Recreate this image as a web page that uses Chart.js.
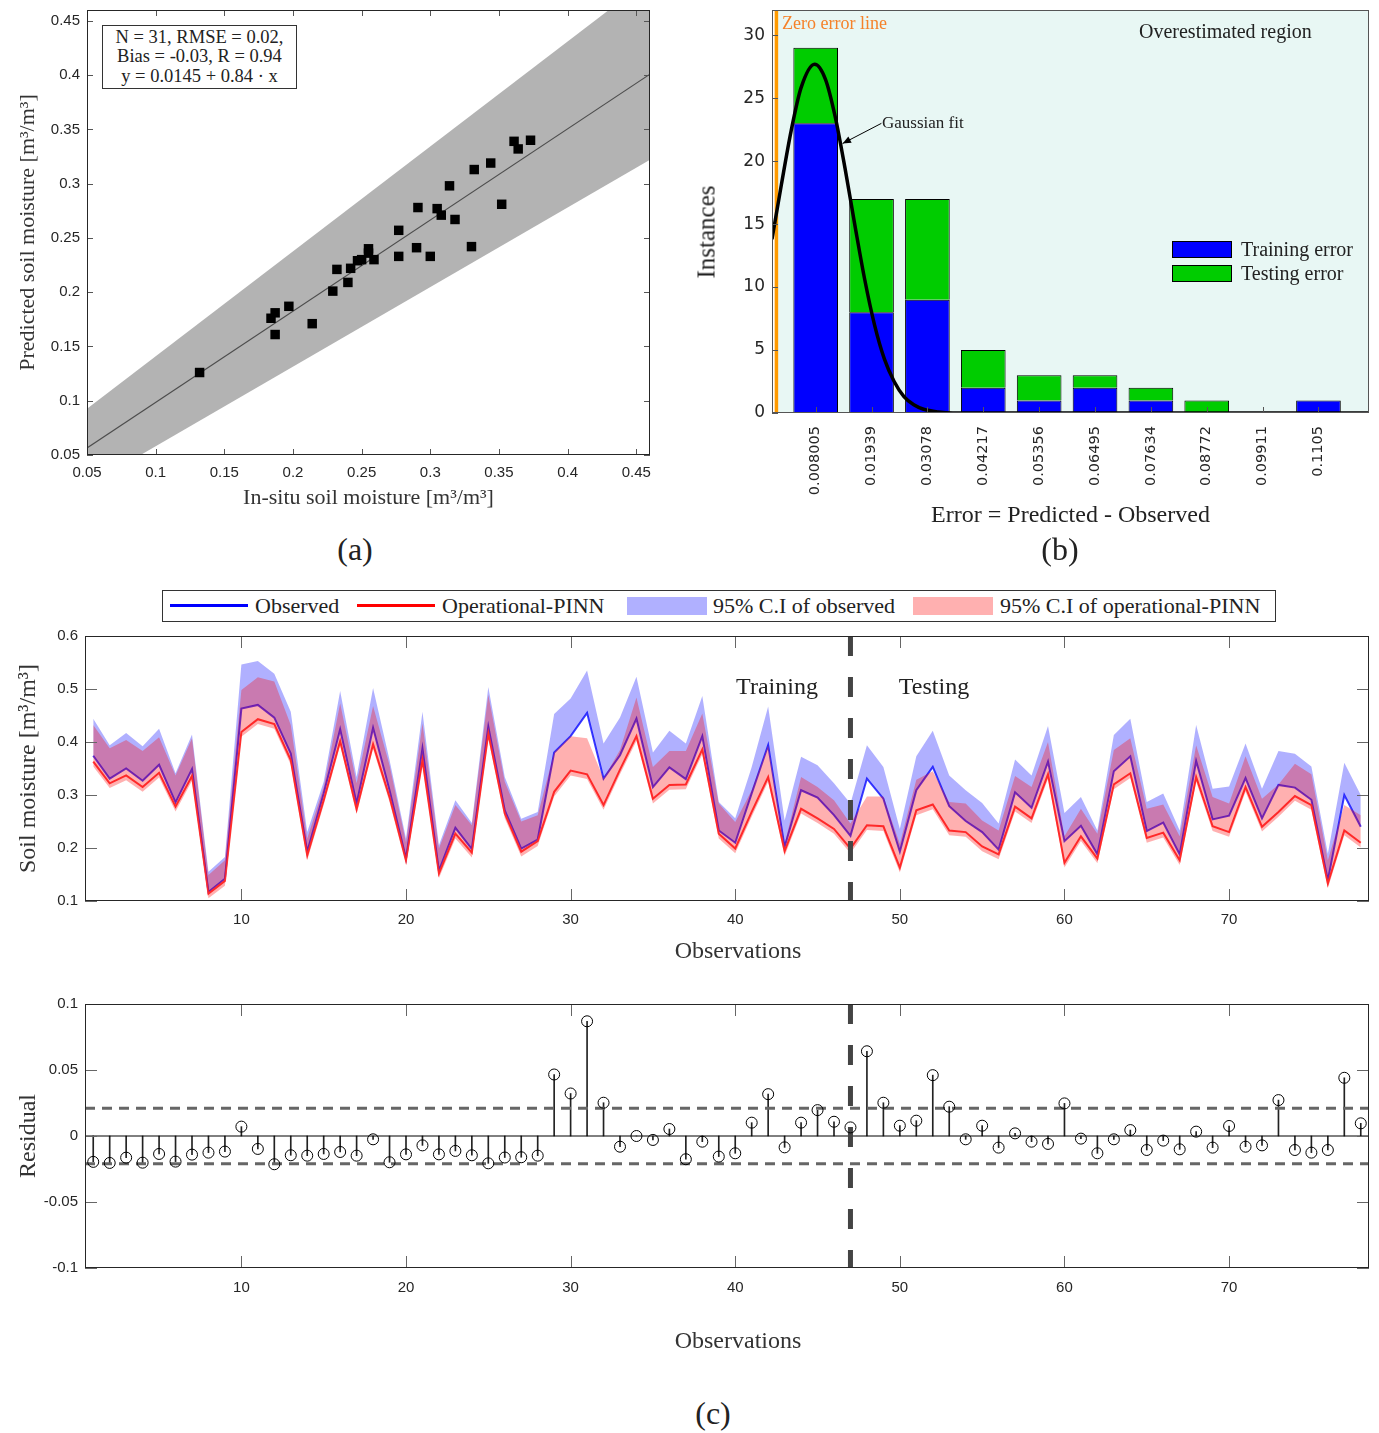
<!DOCTYPE html>
<html lang="en">
<head>
<meta charset="UTF-8">
<title>Soil moisture - Operational-PINN evaluation</title>
<script src="https://cdn.jsdelivr.net/npm/chart.js"></script>
<style>
  body { margin: 0; background: #fff; }
  #fig { position: relative; width: 1379px; height: 1433px; overflow: hidden;
         font-family: 'Liberation Serif', 'Times New Roman', serif; color: #222; }
  #fig canvas { position: absolute; }
  .txt { position: absolute; white-space: nowrap; line-height: 1; }
  .mid { transform: translate(-50%, -50%); }
  .left { transform: translateY(-50%); }
  .panel { font-size: 32px; }
  .swatch { position: absolute; box-sizing: border-box; }
</style>
</head>
<body>
<div id="fig">
  <canvas id="cA" width="660" height="520" style="left:0;top:0"></canvas>
  <canvas id="cB" width="689" height="534" style="left:690px;top:0"></canvas>
  <canvas id="cC" width="1379" height="344" style="left:0;top:626px"></canvas>
  <canvas id="cD" width="1379" height="376" style="left:0;top:994px"></canvas>

  <!-- (a) stats box -->
  <div style="position:absolute;left:102px;top:25px;width:195px;height:64px;box-sizing:border-box;border:1px solid #333;background:#fff;text-align:center;font-size:18.5px;line-height:19.3px;padding-top:2px;">
    N = 31, RMSE = 0.02,<br>Bias = -0.03, R = 0.94<br>y = 0.0145 + 0.84 · x
  </div>

  <!-- (b) annotations -->
  <div class="txt left" style="left:782px;top:23px;font-size:18px;color:#f5822a;">Zero error line</div>
  <div class="txt left" style="left:1139px;top:31px;font-size:20px;">Overestimated region</div>
  <div class="txt left" style="left:882px;top:122px;font-size:17px;">Gaussian fit</div>
  <div class="txt mid" style="left:706px;top:232px;font-size:25px;transform:translate(-50%,-50%) rotate(-90deg);">Instances</div>
  <div class="swatch" style="left:1172px;top:241px;width:60px;height:17px;background:#0000ff;border:1px solid #000;"></div>
  <div class="swatch" style="left:1172px;top:265px;width:60px;height:17px;background:#00cc00;border:1px solid #000;"></div>
  <div class="txt left" style="left:1241px;top:249px;font-size:20px;">Training error</div>
  <div class="txt left" style="left:1241px;top:273px;font-size:20px;">Testing error</div>

  <div class="txt mid panel" style="left:355px;top:549px;">(a)</div>
  <div class="txt mid panel" style="left:1060px;top:549px;">(b)</div>
  <div class="txt mid panel" style="left:713px;top:1413px;">(c)</div>

  <!-- (c) legend -->
  <div class="swatch" style="left:162px;top:590px;width:1114px;height:32px;border:1px solid #333;background:#fff;"></div>
  <div class="swatch" style="left:170px;top:604px;width:78px;height:3px;background:#0000ff;"></div>
  <div class="txt left" style="left:255px;top:606px;font-size:22px;">Observed</div>
  <div class="swatch" style="left:357px;top:604px;width:78px;height:3px;background:#ff0000;"></div>
  <div class="txt left" style="left:442px;top:606px;font-size:22px;">Operational-PINN</div>
  <div class="swatch" style="left:627px;top:597px;width:80px;height:18px;background:#b0b0ff;"></div>
  <div class="txt left" style="left:713px;top:606px;font-size:22px;">95% C.I of observed</div>
  <div class="swatch" style="left:913px;top:597px;width:80px;height:18px;background:#ffb0b0;"></div>
  <div class="txt left" style="left:1000px;top:606px;font-size:22px;">95% C.I of operational-PINN</div>

  <div class="txt mid" style="left:777px;top:686px;font-size:24px;">Training</div>
  <div class="txt mid" style="left:934px;top:686px;font-size:24px;">Testing</div>
  <div class="txt mid" style="left:738px;top:950px;font-size:24px;color:#333;">Observations</div>
  <div class="txt mid" style="left:738px;top:1340px;font-size:24px;color:#333;">Observations</div>
</div>

<script>
// ---- (a) scatter: in-situ vs predicted ----
const insitu    = [0.132, 0.184, 0.187, 0.187, 0.197, 0.214, 0.229, 0.232, 0.240, 0.242,
                   0.247, 0.250, 0.255, 0.255, 0.259, 0.277, 0.277, 0.290, 0.291, 0.300,
                   0.305, 0.308, 0.314, 0.318, 0.330, 0.332, 0.344, 0.352, 0.361, 0.364,
                   0.373];
const predicted = [0.126, 0.176, 0.181, 0.161, 0.187, 0.171, 0.201, 0.221, 0.209, 0.222,
                   0.229, 0.230, 0.240, 0.236, 0.230, 0.257, 0.233, 0.241, 0.278, 0.233,
                   0.277, 0.271, 0.298, 0.267, 0.242, 0.313, 0.319, 0.281, 0.339, 0.332,
                   0.340];
const bandX     = [0.05, 0.46];
const fitY      = [0.0565, 0.4009];
const bandUpper = [0.0925, 0.489];
const bandLower = [0.0214, 0.322];
const scatterTicks  = [0.05, 0.1, 0.15, 0.2, 0.25, 0.3, 0.35, 0.4, 0.45];
const scatterLabels = ['0.05', '0.1', '0.15', '0.2', '0.25', '0.3', '0.35', '0.4', '0.45'];

// ---- (b) error histogram ----
const binCenters  = [0.008005, 0.01939, 0.03078, 0.04217, 0.05356, 0.06495, 0.07634, 0.08772, 0.09911, 0.1105];
const binLabels   = ['0.008005', '0.01939', '0.03078', '0.04217', '0.05356', '0.06495', '0.07634', '0.08772', '0.09911', '0.1105'];
const trainCounts = [23, 8, 9, 2, 1, 2, 1, 0, 0, 1];
const testCounts  = [6, 9, 8, 3, 2, 1, 1, 1, 0, 0];
const gaussX = [-0.0009, 0.001, 0.003, 0.005, 0.0078, 0.010, 0.012, 0.014, 0.016, 0.018,
                0.020, 0.022, 0.024, 0.026, 0.028, 0.030, 0.033, 0.036, 0.045, 0.1208];
const gaussY = [13.8, 18.1, 22.4, 25.8, 27.7, 26.5, 23.5, 19.4, 14.9, 10.6,
                7.0, 4.3, 2.5, 1.3, 0.65, 0.3, 0.08, 0, 0, 0];
const histYTicks = [0, 5, 10, 15, 20, 25, 30];
const arrowTail = [0.0214, 23.0];
const arrowHead = [0.0135, 21.4];

// ---- (c) time series ----
const obsIdx = Array.from({ length: 78 }, (_, i) => i + 1);
const observed = [0.374, 0.331, 0.350, 0.327, 0.357, 0.286, 0.349, 0.117, 0.142, 0.463,
                  0.470, 0.446, 0.378, 0.193, 0.303, 0.424, 0.284, 0.427, 0.309, 0.180,
                  0.388, 0.157, 0.238, 0.198, 0.429, 0.271, 0.199, 0.216, 0.380, 0.411,
                  0.455, 0.331, 0.375, 0.444, 0.315, 0.352, 0.330, 0.411, 0.233, 0.210,
                  0.303, 0.394, 0.202, 0.309, 0.295, 0.262, 0.223, 0.331, 0.293, 0.193,
                  0.309, 0.353, 0.279, 0.251, 0.230, 0.197, 0.305, 0.276, 0.363, 0.213,
                  0.242, 0.188, 0.345, 0.373, 0.232, 0.248, 0.188, 0.364, 0.254, 0.261,
                  0.332, 0.256, 0.319, 0.314, 0.291, 0.139, 0.300, 0.240];
const pinn     = [0.363, 0.322, 0.337, 0.315, 0.342, 0.278, 0.336, 0.114, 0.138, 0.419,
                  0.443, 0.434, 0.366, 0.186, 0.290, 0.402, 0.273, 0.396, 0.296, 0.177,
                  0.366, 0.152, 0.227, 0.191, 0.416, 0.265, 0.193, 0.213, 0.306, 0.346,
                  0.339, 0.281, 0.348, 0.411, 0.293, 0.319, 0.320, 0.386, 0.227, 0.199,
                  0.268, 0.334, 0.194, 0.274, 0.256, 0.236, 0.199, 0.243, 0.241, 0.163,
                  0.271, 0.282, 0.233, 0.230, 0.203, 0.188, 0.278, 0.256, 0.339, 0.172,
                  0.222, 0.180, 0.320, 0.341, 0.219, 0.229, 0.177, 0.334, 0.241, 0.230,
                  0.315, 0.240, 0.268, 0.298, 0.281, 0.133, 0.233, 0.210];
const obsUpper = [0.444, 0.394, 0.417, 0.392, 0.425, 0.341, 0.414, 0.155, 0.183, 0.546,
                  0.553, 0.529, 0.457, 0.230, 0.325, 0.496, 0.334, 0.502, 0.366, 0.218,
                  0.457, 0.205, 0.290, 0.247, 0.504, 0.334, 0.255, 0.268, 0.453, 0.482,
                  0.535, 0.397, 0.446, 0.523, 0.380, 0.421, 0.397, 0.487, 0.287, 0.256,
                  0.353, 0.467, 0.252, 0.372, 0.356, 0.322, 0.284, 0.394, 0.353, 0.236,
                  0.373, 0.421, 0.337, 0.309, 0.285, 0.246, 0.367, 0.337, 0.430, 0.266,
                  0.296, 0.233, 0.413, 0.444, 0.287, 0.303, 0.233, 0.432, 0.312, 0.316,
                  0.397, 0.312, 0.383, 0.378, 0.354, 0.189, 0.361, 0.300];
const pinnUpper = [0.432, 0.388, 0.404, 0.383, 0.409, 0.337, 0.407, 0.149, 0.177, 0.498,
                   0.522, 0.514, 0.432, 0.218, 0.315, 0.473, 0.322, 0.468, 0.356, 0.211,
                   0.435, 0.199, 0.281, 0.243, 0.489, 0.325, 0.250, 0.262, 0.380, 0.411,
                   0.407, 0.331, 0.385, 0.484, 0.353, 0.383, 0.383, 0.454, 0.284, 0.249,
                   0.309, 0.394, 0.208, 0.334, 0.315, 0.290, 0.246, 0.297, 0.297, 0.208,
                   0.329, 0.345, 0.287, 0.284, 0.252, 0.233, 0.336, 0.315, 0.400, 0.222,
                   0.274, 0.227, 0.385, 0.407, 0.274, 0.282, 0.222, 0.394, 0.296, 0.284,
                   0.373, 0.293, 0.320, 0.359, 0.339, 0.177, 0.281, 0.262];
const pinnLower = [0.354, 0.313, 0.328, 0.306, 0.333, 0.269, 0.327, 0.105, 0.129, 0.410,
                   0.434, 0.425, 0.357, 0.177, 0.281, 0.393, 0.264, 0.387, 0.287, 0.168,
                   0.357, 0.143, 0.218, 0.182, 0.407, 0.256, 0.184, 0.204, 0.297, 0.337,
                   0.330, 0.272, 0.339, 0.402, 0.284, 0.310, 0.311, 0.377, 0.218, 0.190,
                   0.259, 0.325, 0.185, 0.265, 0.247, 0.227, 0.190, 0.234, 0.232, 0.154,
                   0.262, 0.273, 0.224, 0.221, 0.194, 0.179, 0.269, 0.247, 0.330, 0.163,
                   0.213, 0.171, 0.311, 0.332, 0.210, 0.220, 0.168, 0.325, 0.232, 0.221,
                   0.306, 0.231, 0.259, 0.289, 0.272, 0.124, 0.224, 0.201];
const residual = [-0.0196, -0.0204, -0.0164, -0.0202, -0.0136, -0.0194, -0.0141, -0.0126, -0.0118, 0.0071,
                  -0.0098, -0.0214, -0.0146, -0.0149, -0.0136, -0.0121, -0.0149, -0.0025, -0.0199, -0.0139,
                  -0.0071, -0.0139, -0.0113, -0.0146, -0.0207, -0.0163, -0.0161, -0.0149, 0.0466, 0.0322,
                  0.0869, 0.0252, -0.0081, 0.0, -0.0030, 0.0053, -0.0176, -0.0043, -0.0156, -0.0131,
                  0.0101, 0.0317, -0.0086, 0.0101, 0.0196, 0.0108, 0.0065, 0.0642, 0.0252, 0.0078,
                  0.0116, 0.0461, 0.0222, -0.0025, 0.0078, -0.0088, 0.0020, -0.0043, -0.0060, 0.0247,
                  -0.0020, -0.0131, -0.0025, 0.0045, -0.0106, -0.0035, -0.0101, 0.0033, -0.0088, 0.0076,
                  -0.0081, -0.0071, 0.0272, -0.0106, -0.0126, -0.0106, 0.0441, 0.0096];
const resLimit = 0.021;
const splitAt = 47;
const tsXMin = 0.5, tsXMax = 78.5;
const tsXTicks = [10, 20, 30, 40, 50, 60, 70];
const tsYTicks = [0.1, 0.2, 0.3, 0.4, 0.5, 0.6];
const resYTicks = [-0.1, -0.05, 0, 0.05, 0.1];
const resYLabels = ['-0.1', '-0.05', '0', '0.05', '0.1'];

const pts = (xs, ys) => xs.map((x, i) => ({ x, y: ys[i] }));
const setTicks = vals => s => { s.ticks = vals.map(v => ({ value: v })); };
// force a fixed axis box and drop the label-overflow padding
const fixBox = (w, h) => s => {
  if (w != null) s.width = w;
  if (h != null) s.height = h;
  s.paddingTop = s.paddingBottom = s.paddingLeft = s.paddingRight = 0;
};
const tickFont = { family: "'Liberation Sans', Arial, sans-serif", size: 15 };
const serif = "'Liberation Serif', 'Times New Roman', serif";
const noGrid = { display: false, drawTicks: false };
const clear = 'rgba(0,0,0,0)';

// MATLAB-ish box with inward ticks
const boxTicks = {
  id: 'boxTicks',
  afterDraw(chart, args, o) {
    const { ctx, chartArea: a, scales: { x, y } } = chart;
    const len = o.len || 6;
    ctx.save();
    ctx.strokeStyle = o.tickColor || '#555';
    ctx.lineWidth = 1;
    ctx.beginPath();
    x.ticks.forEach(t => {
      const px = Math.round(x.getPixelForValue(t.value)) + 0.5;
      ctx.moveTo(px, a.bottom); ctx.lineTo(px, a.bottom - len);
      if (o.mirror) { ctx.moveTo(px, a.top); ctx.lineTo(px, a.top + len); }
    });
    y.ticks.forEach(t => {
      const py = Math.round(y.getPixelForValue(t.value)) + 0.5;
      ctx.moveTo(a.left, py); ctx.lineTo(a.left + len, py);
      if (o.mirror) { ctx.moveTo(a.right, py); ctx.lineTo(a.right - len, py); }
    });
    ctx.stroke();
    ctx.strokeStyle = o.boxColor || '#262626';
    ctx.strokeRect(a.left + 0.5, a.top + 0.5, a.width - 1, a.height - 1);
    ctx.restore();
  }
};

// shaded "overestimated" region + arrow for the histogram
const histExtras = {
  id: 'histExtras',
  beforeDatasetsDraw(chart) {
    const { ctx, chartArea: a, scales: { x } } = chart;
    const x0 = x.getPixelForValue(0);
    ctx.save();
    ctx.fillStyle = '#e8f7f4';
    ctx.fillRect(x0, a.top, a.right - x0, a.height);
    ctx.restore();
  },
  afterDatasetsDraw(chart) {
    const { ctx, scales: { x, y } } = chart;
    const tx = x.getPixelForValue(arrowTail[0]), ty = y.getPixelForValue(arrowTail[1]);
    const hx = x.getPixelForValue(arrowHead[0]), hy = y.getPixelForValue(arrowHead[1]);
    const ang = Math.atan2(hy - ty, hx - tx);
    ctx.save();
    ctx.strokeStyle = '#000'; ctx.fillStyle = '#000'; ctx.lineWidth = 1;
    ctx.beginPath(); ctx.moveTo(tx, ty); ctx.lineTo(hx, hy); ctx.stroke();
    ctx.beginPath();
    ctx.moveTo(hx, hy);
    ctx.lineTo(hx - 9 * Math.cos(ang - 0.4), hy - 9 * Math.sin(ang - 0.4));
    ctx.lineTo(hx - 9 * Math.cos(ang + 0.4), hy - 9 * Math.sin(ang + 0.4));
    ctx.closePath(); ctx.fill();
    ctx.restore();
  }
};

Chart.defaults.font.family = tickFont.family;
Chart.defaults.color = '#262626';
const base = {
  responsive: false, animation: false, devicePixelRatio: 1,
  plugins: { legend: { display: false }, tooltip: { enabled: false } }
};

// (a)
new Chart(document.getElementById('cA'), {
  type: 'scatter',
  data: { datasets: [
    { data: pts(bandX, bandUpper), showLine: true, borderColor: clear, borderWidth: 0, pointRadius: 0, fill: '+1', backgroundColor: '#b3b3b3', order: 3 },
    { data: pts(bandX, bandLower), showLine: true, borderColor: clear, borderWidth: 0, pointRadius: 0, fill: false, order: 3 },
    { data: pts(bandX, fitY), showLine: true, borderColor: '#4d4d4d', borderWidth: 1.2, pointRadius: 0, order: 2 },
    { data: pts(insitu, predicted), pointStyle: 'rect', pointRadius: 6.7, backgroundColor: '#000', borderColor: '#000', borderWidth: 0, order: 1 }
  ]},
  options: { ...base,
    layout: { padding: { left: 0, top: 10, right: 10, bottom: 0 } },
    plugins: { ...base.plugins, boxTicks: { len: 6, mirror: true } },
    scales: {
      x: { type: 'linear', min: 0.05, max: 0.46, grid: noGrid, border: { display: false },
           afterBuildTicks: setTicks(scatterTicks), afterFit: fixBox(null, 65),
           ticks: { font: tickFont, padding: 9, callback: (v, i) => scatterLabels[i] },
           title: { display: true, text: 'In-situ soil moisture [m³/m³]', font: { family: serif, size: 22 }, color: '#333', padding: { top: 0, bottom: 9 } } },
      y: { type: 'linear', min: 0.05, max: 0.46, grid: noGrid, border: { display: false },
           afterBuildTicks: setTicks(scatterTicks), afterFit: fixBox(87, null),
           ticks: { font: tickFont, padding: 7, callback: (v, i) => scatterLabels[i] },
           title: { display: true, text: 'Predicted soil moisture [m³/m³]', font: { family: serif, size: 22 }, color: '#333', padding: { top: 15, bottom: 0 } } }
    }
  },
  plugins: [boxTicks]
});

// (b)
new Chart(document.getElementById('cB'), {
  type: 'bar',
  data: { datasets: [
    { type: 'line', label: 'Gaussian fit', data: pts(gaussX, gaussY), borderColor: '#000', borderWidth: 3.5, pointRadius: 0, cubicInterpolationMode: 'monotone', stack: 'gauss', order: 0 },
    { type: 'line', label: 'Zero error line', data: [{ x: 0, y: 0 }, { x: 0, y: 32 }], borderColor: '#ff9a00', borderWidth: 3.5, pointRadius: 0, stack: 'zero', order: 1 },
    { label: 'Training error', data: pts(binCenters, trainCounts), backgroundColor: '#0000ff', borderColor: '#000', borderWidth: 1, barPercentage: 0.8, categoryPercentage: 1, stack: 'hist', order: 2 },
    { label: 'Testing error', data: pts(binCenters, testCounts), backgroundColor: '#00cc00', borderColor: '#000', borderWidth: 1, barPercentage: 0.8, categoryPercentage: 1, stack: 'hist', order: 2 }
  ]},
  options: { ...base,
    layout: { padding: { left: 0, top: 10, right: 10, bottom: 0 } },
    plugins: { ...base.plugins, boxTicks: { len: 6, mirror: false, boxColor: '#555' } },
    scales: {
      x: { type: 'linear', min: -0.0009, max: 0.1208, stacked: true, offset: false, grid: { ...noGrid, offset: false }, border: { display: false },
           afterBuildTicks: setTicks(binCenters), afterFit: fixBox(null, 121),
           ticks: { font: { family: "'DejaVu Sans', sans-serif", size: 14.5 }, padding: 13, minRotation: 90, maxRotation: 90, autoSkip: false, callback: (v, i) => binLabels[i] },
           title: { display: true, text: 'Error = Predicted - Observed', font: { family: serif, size: 24 }, color: '#222', padding: { top: 0, bottom: 4 } } },
      y: { type: 'linear', min: 0, max: 32, stacked: true, grid: noGrid, border: { display: false },
           afterBuildTicks: setTicks(histYTicks), afterFit: fixBox(82, null),
           ticks: { font: { family: "'DejaVu Sans', sans-serif", size: 17 }, padding: 7 } }
    }
  },
  plugins: [histExtras, boxTicks]
});

// (c) time series
new Chart(document.getElementById('cC'), {
  type: 'line',
  data: { datasets: [
    { label: 'Observed', data: pts(obsIdx, observed), borderColor: '#3c3cff', borderWidth: 2, pointRadius: 0, fill: false, order: 10 },
    { label: 'Operational-PINN', data: pts(obsIdx, pinn), borderColor: '#ff3c3c', borderWidth: 2, pointRadius: 0, fill: false, order: 9 },
    { label: 'PINN lower', data: pts(obsIdx, pinnLower), borderColor: clear, borderWidth: 0, pointRadius: 0, fill: false, order: 8 },
    { label: '95% C.I of observed', data: pts(obsIdx, obsUpper), borderColor: clear, borderWidth: 0, pointRadius: 0, fill: '-3', backgroundColor: 'rgba(0,0,255,0.31)', order: 2 },
    { label: '95% C.I of operational-PINN', data: pts(obsIdx, pinnUpper), borderColor: clear, borderWidth: 0, pointRadius: 0, fill: '-2', backgroundColor: 'rgba(255,0,0,0.31)', order: 1 },
    { label: 'split', data: [{ x: splitAt, y: 0.6 }, { x: splitAt, y: 0.1 }], borderColor: '#444', borderWidth: 5, borderDash: [20, 21], pointRadius: 0, fill: false, order: 0 }
  ]},
  options: { ...base,
    layout: { padding: { left: 0, top: 10, right: 10, bottom: 0 } },
    plugins: { ...base.plugins, boxTicks: { len: 12, mirror: true, tickColor: '#666' } },
    scales: {
      x: { type: 'linear', min: tsXMin, max: tsXMax, grid: noGrid, border: { display: false },
           afterBuildTicks: setTicks(tsXTicks), afterFit: fixBox(null, 69),
           ticks: { font: tickFont, padding: 10 } },
      y: { type: 'linear', min: 0.1, max: 0.6, grid: noGrid, border: { display: false },
           afterBuildTicks: setTicks(tsYTicks), afterFit: fixBox(85, null),
           ticks: { font: tickFont, padding: 7 },
           title: { display: true, text: 'Soil moisture [m³/m³]', font: { family: serif, size: 24 }, color: '#333', padding: { top: 14, bottom: 0 } } }
    }
  },
  plugins: [boxTicks]
});

// (c) residual stems
new Chart(document.getElementById('cD'), {
  type: 'bar',
  data: { datasets: [
    { type: 'line', label: 'Residual', data: pts(obsIdx, residual), showLine: false, pointStyle: 'circle', pointRadius: 5.5,
      pointBackgroundColor: clear, pointBorderColor: '#000', pointBorderWidth: 1, order: 0 },
    { label: 'stem', data: obsIdx.map((x, i) => ({ x, y: [0, residual[i]] })), backgroundColor: '#222', barThickness: 1, order: 3 },
    { type: 'line', label: 'upper', data: [{ x: tsXMin, y: resLimit }, { x: tsXMax, y: resLimit }], borderColor: '#666', borderWidth: 3, borderDash: [10, 7], pointRadius: 0, order: 2 },
    { type: 'line', label: 'lower', data: [{ x: tsXMin, y: -resLimit }, { x: tsXMax, y: -resLimit }], borderColor: '#666', borderWidth: 3, borderDash: [10, 7], pointRadius: 0, order: 2 },
    { type: 'line', label: 'zero', data: [{ x: tsXMin, y: 0 }, { x: tsXMax, y: 0 }], borderColor: '#000', borderWidth: 1, pointRadius: 0, order: 2 },
    { type: 'line', label: 'split', data: [{ x: splitAt, y: 0.1 }, { x: splitAt, y: -0.1 }], borderColor: '#444', borderWidth: 5, borderDash: [20, 21], pointRadius: 0, order: 1 }
  ]},
  options: { ...base,
    layout: { padding: { left: 0, top: 10, right: 10, bottom: 0 } },
    plugins: { ...base.plugins, boxTicks: { len: 12, mirror: true, tickColor: '#666' } },
    scales: {
      x: { type: 'linear', min: tsXMin, max: tsXMax, offset: false, grid: { ...noGrid, offset: false }, border: { display: false },
           afterBuildTicks: setTicks(tsXTicks), afterFit: fixBox(null, 102),
           ticks: { font: tickFont, padding: 11 } },
      y: { type: 'linear', min: -0.1, max: 0.1, grid: noGrid, border: { display: false },
           afterBuildTicks: setTicks(resYTicks), afterFit: fixBox(85, null),
           ticks: { font: tickFont, padding: 7, callback: (v, i) => resYLabels[i] },
           title: { display: true, text: 'Residual', font: { family: serif, size: 24 }, color: '#333', padding: { top: 14, bottom: 0 } } }
    }
  },
  plugins: [boxTicks]
});
</script>
</body>
</html>
